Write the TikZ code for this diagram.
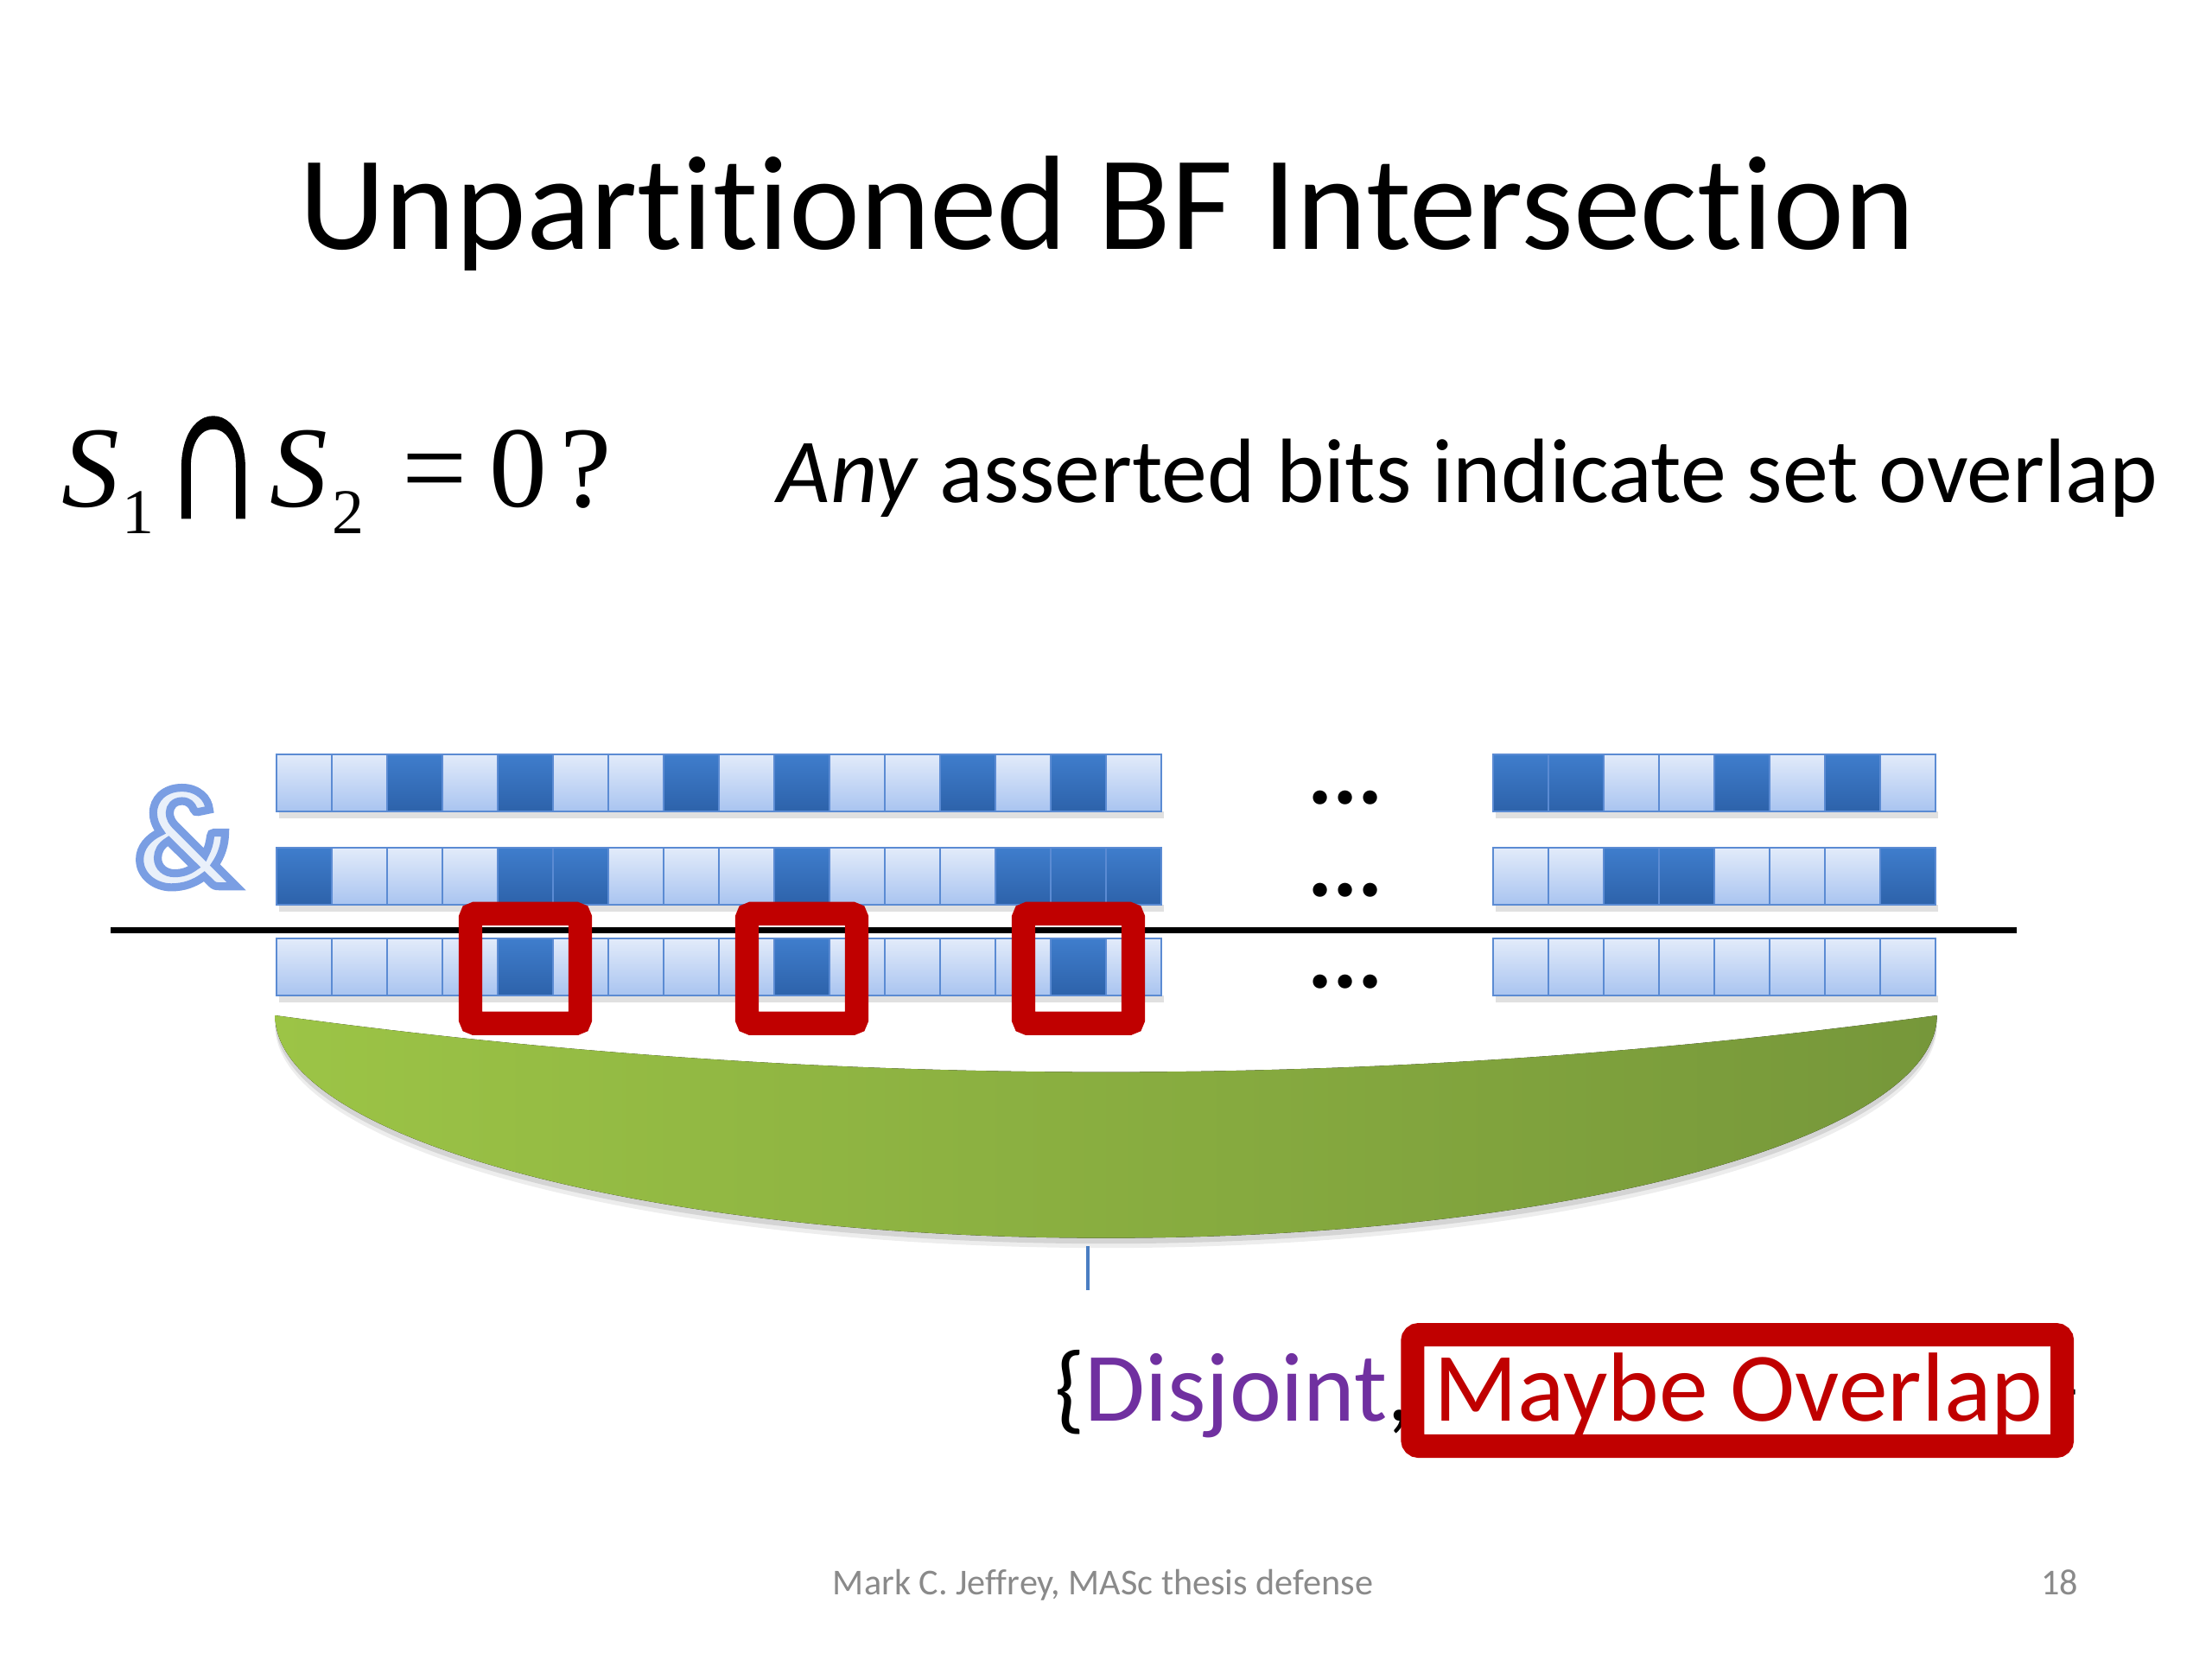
\documentclass[tikz,border=0pt]{standalone}
\usepackage{fontspec}
\usepackage{graphicx}
\setmainfont[Ligatures={NoCommon}]{Carlito}
\newfontfamily\eqfont{Liberation Serif}
\usetikzlibrary{calc}
\definecolor{lt0}{HTML}{E2EBFA}
\definecolor{lb0}{HTML}{A9C4F0}
\definecolor{lt1}{HTML}{3F7DCC}
\definecolor{lb1}{HTML}{2D62AA}
\definecolor{cellline}{HTML}{5B8BD3}
\definecolor{boxred}{HTML}{C00000}
\definecolor{purp}{HTML}{7030A0}
\definecolor{gleft}{HTML}{9CC446}
\definecolor{gright}{HTML}{76973A}
\definecolor{foot}{HTML}{8A8A8A}
\definecolor{ampfill}{HTML}{E9F0FA}
\definecolor{tickblue}{HTML}{4A7EC2}
\def\U{0.01641cm}
\begin{document}
\begin{tikzpicture}[x=0.01641cm,y=-0.01641cm,
  bitcell/.style={draw=cellline, line width=0.6pt, inner sep=0pt,
    minimum width={39*\U}, minimum height={40*\U}, top color=lt#1, bottom color=lb#1},
  redsq/.style={draw=boxred, line width=7.75pt, inner sep=0pt,
    minimum size={77.4*\U}, rounded corners=1.5pt},
  rowshadow/.style={fill=black, opacity=0.12},
  dotsstyle/.style={anchor=base, inner sep=0pt, font=\fontsize{31}{31}\selectfont\bfseries},
  eqtext/.style={anchor=base west, inner sep=0pt, font=\eqfont\fontsize{38}{38}\selectfont},
  eqsub/.style={anchor=base west, inner sep=0pt, font=\eqfont\fontsize{21}{21}\selectfont},
  foottext/.style={inner sep=0pt, text=foot, font=\fontsize{12}{12}\selectfont}]
\useasboundingbox (0,0) rectangle (1560,1170);
\fill[white] (0,0) rectangle (1560,1170);

% title
\node[anchor=base, inner sep=0pt, font=\fontsize{44.2}{50}\selectfont] (title) at (780.6,175.5)
  {Unpartitioned BF Intersection};

% equation
\node[eqtext] (eqSa) at (43,357.5) {\itshape S};
\node[eqsub] (eqsa) at (86,376.5) {1};
\node[anchor=south west, inner sep=0pt, font=\eqfont\fontsize{38}{38}\selectfont] (eqcap) at (115,365)
  {\resizebox*{70\dimexpr0.01641cm\relax}{70\dimexpr0.01641cm\relax}{\special{pdf:literal 2 Tr 0.7 w 0 0 0 RG}∩\special{pdf:literal 0 Tr}}};
\node[eqtext] (eqSb) at (190,357.5) {\itshape S};
\node[eqsub] (eqsb) at (234,376.5) {2};
\node[eqtext] (eqeq) at (283,357.5) {=};
\node[eqtext] (eqzero) at (345,357.5) {0};
\node[eqtext] (eqq) at (395,357.5) {?};

% statement
\node[anchor=base west, inner sep=0pt, font=\fontsize{30.1}{36}\selectfont] (stmt) at (548,354.5)
  {\textit{Any} asserted bits indicate set overlap};

% ampersand
\node[anchor=base west, inner sep=0pt, text=ampfill, font=\fontsize{47}{47}\selectfont\bfseries] (amp) at (95,625)
  {\special{pdf:literal 2 Tr 2.6 w 0.48 0.62 0.89 RG}\&\special{pdf:literal 0 Tr}};

% row shadows
\foreach \yy in {572,638,702} {
  \fill[rowshadow] (197,\yy) rectangle (821,\yy+5);
  \fill[rowshadow] (1055,\yy) rectangle (1367,\yy+5);
}

% rows, left blocks
\foreach \b [count=\i from 0] in {0,0,1,0,1,0,0,1,0,1,0,0,1,0,1,0}
  \node[bitcell=\b] (a\i) at ({214.5+39*\i},552) {};
\foreach \b [count=\i from 0] in {1,0,0,0,1,1,0,0,0,1,0,0,0,1,1,1}
  \node[bitcell=\b] (b\i) at ({214.5+39*\i},618) {};
\foreach \b [count=\i from 0] in {0,0,0,0,1,0,0,0,0,1,0,0,0,0,1,0}
  \node[bitcell=\b] (c\i) at ({214.5+39*\i},682) {};
% rows, right blocks
\foreach \b [count=\i from 0] in {1,1,0,0,1,0,1,0}
  \node[bitcell=\b] (ra\i) at ({1072.5+39*\i},552) {};
\foreach \b [count=\i from 0] in {0,0,1,1,0,0,0,1}
  \node[bitcell=\b] (rb\i) at ({1072.5+39*\i},618) {};
\foreach \b [count=\i from 0] in {0,0,0,0,0,0,0,0}
  \node[bitcell=\b] (rc\i) at ({1072.5+39*\i},682) {};

% dots
\node[dotsstyle] (dots1) at (949,567) {...};
\node[dotsstyle] (dots2) at (949,632) {...};
\node[dotsstyle] (dots3) at (949,697) {...};

% result line
\coordinate (lineL) at (78,656);
\coordinate (lineR) at (1422,656);
\draw[line width=1.9pt] (lineL) -- (lineR);

% green reduction shape
\def\greenpath{(194,716) .. controls (584.7,769.3) and (975.3,769.3) .. (1366,716)
  .. controls (1366,802.7) and (1103.6,873) .. (780,873)
  .. controls (456.4,873) and (194,802.7) .. (194,716) -- cycle}
\fill[black, opacity=0.07, yshift={-7*\U}] \greenpath;
\fill[black, opacity=0.10, yshift={-4*\U}] \greenpath;
\fill[left color=gleft, right color=gright] \greenpath;

% red squares
\node[redsq] (sq1) at ($(c4)+(0,1)$) {};
\node[redsq] (sq2) at ($(c9)+(0,1)$) {};
\node[redsq] (sq3) at ($(c14)+(0,1)$) {};

% tick
\coordinate (tickT) at (767,879);
\coordinate (tickB) at (767,910);
\draw[tickblue, line width=1.2pt] (tickT) -- (tickB);

% result label
\node[anchor=base west, inner sep=0pt, font=\fontsize{32.3}{36}\selectfont] (result) at (743,1002)
  {\{\textcolor{purp}{Disjoint}, \textcolor{boxred}{Maybe Overlap}\kern1.8pt\}};
\node[draw=boxred, line width=7.7pt, inner sep=0pt, minimum width={458.1*\U},
  minimum height={78.5*\U}, rounded corners=2pt] (mframe) at (1225.3,980.5) {};

% footer
\node[foottext, anchor=base west] (footer) at (587,1124.3) {Mark C. Jeffrey, MASc thesis defense};
\node[foottext, anchor=base east] (pagenum) at (1466,1124.3) {18};
\end{tikzpicture}
\end{document}
